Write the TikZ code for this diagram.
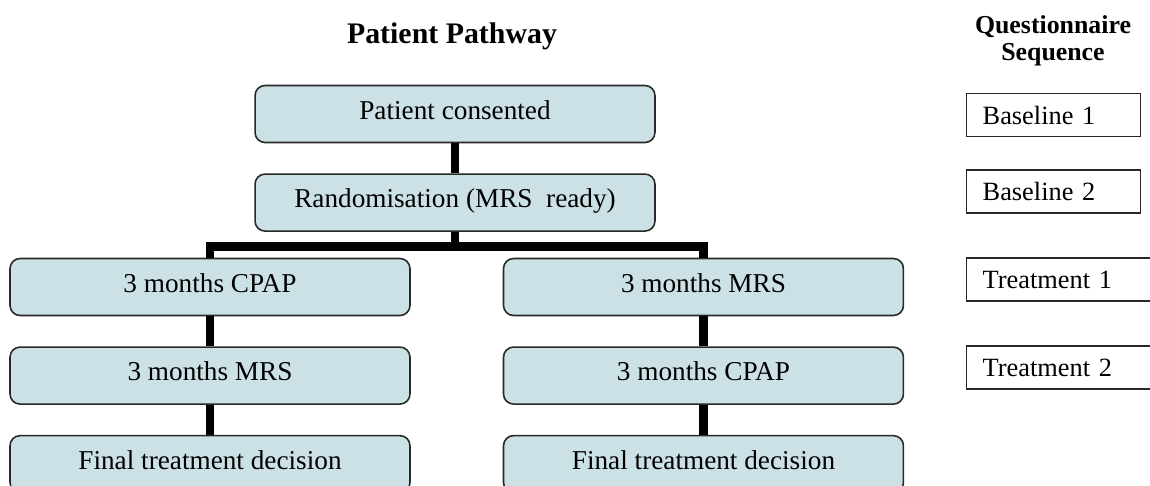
\documentclass[tikz,border=0pt]{standalone}
\usepackage{fontspec}
\setmainfont{Liberation Serif}
\usetikzlibrary{positioning}
\definecolor{boxblue}{RGB}{204,225,230}
\definecolor{boxline}{RGB}{40,40,40}

\begin{document}
\begin{tikzpicture}[x=0.02cm, y=-0.02cm, node distance=0.6cm and 1.84cm,
  pbox/.style={rectangle, draw=boxline, fill=boxblue, line width=0.9pt, rounded corners=0.2cm, minimum width=8cm, minimum height=1.14cm, text height=0.34cm, text depth=0.14cm, font=\fontsize{15.5}{18}\selectfont},
  qbox/.style={rectangle, draw=boxline, line width=0.8pt, minimum height=0.86cm, inner xsep=0.32cm, align=left, anchor=west, font=\fontsize{15}{18}\selectfont},
  link/.style={line width=5pt}]

\fill[white] (0,0) rectangle (1150,485);
\useasboundingbox (0,0) rectangle (1150,485);

% Titles
\node[font=\bfseries\fontsize{17}{20}\selectfont, anchor=base] (ptitle) at (452,43) {Patient Pathway};
\node[font=\bfseries\fontsize{14.7}{15.5}\selectfont, align=center, anchor=north, inner sep=0pt] (qtitle) at (1053,15) {Questionnaire\\Sequence};

% Patient pathway
\node[pbox] (consent) at (455,114) {Patient consented};
\node[pbox, below=of consent] (rand) {Randomisation (MRS~ ready)};

\node[pbox] (cpapA) at (210,287) {3 months CPAP};
\node[pbox, below=of cpapA] (mrsA) {3 months MRS};
\node[pbox, below=of mrsA] (finalA) {Final treatment decision};

\node[pbox, right=of cpapA] (mrsB) {3 months MRS};
\node[pbox, below=of mrsB] (cpapB) {3 months CPAP};
\node[pbox, below=of cpapB] (finalB) {Final treatment decision};

% Connectors
\path (rand.south) ++(0,15) coordinate (fork);
\draw[link] (consent) -- (rand);
\draw[link] (rand) -- (fork);
\draw[link] (cpapA.north) |- (fork) -| (mrsB.north);
\draw[link] (cpapA) -- (mrsA);
\draw[link] (mrsA) -- (finalA);
\draw[link] (mrsB) -- (cpapB);
\draw[link] (cpapB) -- (finalB);

% Questionnaire sequence
\node[qbox, text width=2.84cm] (base1) at (966,115) {Baseline 1};
\node[qbox, text width=2.84cm] (base2) at (966,191.5) {Baseline 2};
\node[qbox, text width=3.1cm] (treat1) at (966,279.5) {Treatment 1};
\node[qbox, text width=3.1cm] (treat2) at (966,367.5) {Treatment 2};

\end{tikzpicture}
\end{document}
